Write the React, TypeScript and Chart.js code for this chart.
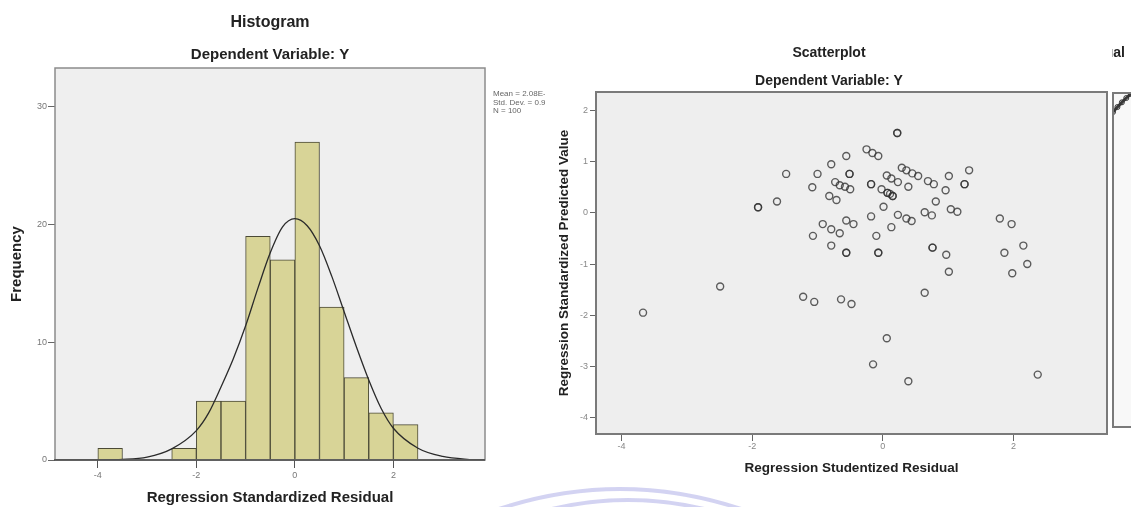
import React, { useEffect, useRef } from "react";
import { Chart, registerables } from "chart.js";

Chart.register(...registerables);
Chart.defaults.font.family = "'Liberation Sans', Arial, sans-serif";

// ---------- Histogram data ----------
const histBinCenters = [-3.75, -2.25, -1.75, -1.25, -0.75, -0.25, 0.25, 0.75, 1.25, 1.75, 2.25];
const histFrequencies = [1, 1, 5, 5, 19, 17, 27, 13, 7, 4, 3];
const curveX = [-4.87, -4.5, -4, -3.5, -3, -2.5, -2, -1.75, -1.5, -1.25, -1, -0.75, -0.5, -0.25, 0, 0.25, 0.5, 0.75, 1, 1.25, 1.5, 1.75, 2, 2.5, 3, 3.5, 3.86];
const curveY = [0, 0, 0.01, 0.05, 0.25, 0.95, 2.5, 4.0, 6.2, 8.6, 11.4, 14.6, 17.6, 19.8, 20.5, 19.9, 18.2, 15.6, 12.6, 9.6, 6.8, 4.4, 2.7, 1.0, 0.3, 0.06, 0.02];
const histXTicks = [-4, -2, 0, 2];
const histYTicks = [0, 10, 20, 30];
const histStats = ["Mean = 2.08E-16", "Std. Dev. = 0.995", "N = 100"];

// ---------- Scatterplot data ----------
const studentizedResidual = [
  0.22, 0.22, -0.25, -0.16, -0.07, -0.56, -0.79, -1.48, -1.0, -0.51, -0.51,
  0.29, 0.36, 0.45, 0.54, 1.01, 1.32, 0.06, 0.13, 0.23, 0.69, 0.78,
  -1.08, -0.73, -0.66, -0.58, -0.5, -0.18, -0.18, -0.02, 0.07, 0.07, 0.11, 0.15, 0.15,
  0.39, 1.25, 1.25, 0.96, -0.82, -0.71, -1.62, -1.91, -1.91, 0.81, 0.01,
  1.04, 1.14, 0.64, 0.75, -0.18, 0.23, 0.36, 0.44, 1.79, 1.97,
  -0.56, -0.45, -0.92, -0.79, -0.66, 0.13, -1.07, -0.1, -0.79, 0.76, 0.76,
  2.15, -0.56, -0.56, -0.07, -0.07, 0.97, 1.86, 2.21, 1.01, 1.98,
  -2.49, 0.64, -1.22, -1.05, -0.64, -0.48, -3.67, 0.06, -0.15, 0.39, 2.37,
];
const standardizedPredicted = [
  1.56, 1.56, 1.24, 1.17, 1.11, 1.11, 0.95, 0.76, 0.76, 0.76, 0.76,
  0.88, 0.83, 0.77, 0.72, 0.72, 0.83, 0.73, 0.67, 0.6, 0.62, 0.56,
  0.5, 0.6, 0.54, 0.51, 0.46, 0.56, 0.56, 0.46, 0.39, 0.39, 0.37, 0.33, 0.33,
  0.51, 0.56, 0.56, 0.44, 0.33, 0.25, 0.22, 0.11, 0.11, 0.22, 0.12,
  0.07, 0.02, 0.01, -0.05, -0.07, -0.04, -0.11, -0.16, -0.11, -0.22,
  -0.15, -0.22, -0.22, -0.32, -0.4, -0.28, -0.45, -0.45, -0.64, -0.68, -0.68,
  -0.64, -0.78, -0.78, -0.78, -0.78, -0.82, -0.78, -1.0, -1.15, -1.18,
  -1.44, -1.56, -1.64, -1.74, -1.69, -1.78, -1.95, -2.45, -2.96, -3.29, -3.16,
];
const scatterXTicks = [-4, -2, 0, 2];
const scatterYTicks = [-4, -3, -2, -1, 0, 1, 2];

// ---------- Cut-off P-P plot (right edge) ----------
const ppExpected = [0, 0.009, 0.018, 0.027, 0.036];
const ppObserved = [0.943, 0.958, 0.972, 0.985, 0.997];
const ppXTicks = [0.2, 0.4, 0.6, 0.8, 1];

const FONT = "'Liberation Sans', Arial, sans-serif";

function framePlugin(bg: string, border: string, width: number, bottomColor?: string) {
  return {
    id: "frame",
    beforeDraw(chart: any) {
      const { ctx, chartArea: a } = chart;
      ctx.save();
      ctx.fillStyle = bg;
      ctx.fillRect(a.left, a.top, a.right - a.left, a.bottom - a.top);
      ctx.restore();
    },
    afterDatasetsDraw(chart: any) {
      const { ctx, chartArea: a } = chart;
      ctx.save();
      ctx.strokeStyle = border;
      ctx.lineWidth = width;
      ctx.strokeRect(a.left, a.top, a.right - a.left, a.bottom - a.top);
      if (bottomColor) {
        ctx.strokeStyle = bottomColor;
        ctx.beginPath();
        ctx.moveTo(a.left - 1, a.bottom);
        ctx.lineTo(a.right, a.bottom);
        ctx.stroke();
      }
      ctx.restore();
    },
  };
}

function spacer(w: number) {
  return {
    position: "right",
    display: true,
    grid: { display: false },
    border: { display: false },
    ticks: { display: false },
    afterFit: (s: any) => {
      s.width = w;
    },
  };
}

export default function App() {
  const histRef = useRef<HTMLCanvasElement>(null);
  const scatRef = useRef<HTMLCanvasElement>(null);
  const ppRef = useRef<HTMLCanvasElement>(null);

  useEffect(() => {
    const charts: Chart[] = [];

    // ---------------- Histogram ----------------
    const statsPlugin = {
      id: "stats",
      afterDraw(chart: any) {
        const { ctx } = chart;
        ctx.save();
        ctx.font = `8px ${FONT}`;
        ctx.fillStyle = "#666";
        ctx.textAlign = "left";
        ctx.textBaseline = "middle";
        histStats.forEach((t, i) => ctx.fillText(t, 493, 94 + i * 8.5));
        ctx.restore();
      },
    };
    charts.push(
      new Chart(histRef.current!, {
        type: "bar",
        data: {
          datasets: [
            {
              type: "line",
              data: curveX.map((x, i) => ({ x, y: curveY[i] })),
              borderColor: "#2a2a2a",
              borderWidth: 1.3,
              pointRadius: 0,
              cubicInterpolationMode: "monotone",
              fill: false,
              order: 0,
            } as any,
            {
              type: "bar",
              data: histBinCenters.map((x, i) => ({ x, y: histFrequencies[i] })),
              backgroundColor: "#d8d497",
              borderColor: "#4b4a36",
              borderWidth: 1,
              barPercentage: 1,
              categoryPercentage: 1,
              order: 1,
            } as any,
          ],
        },
        options: {
          animation: false,
          responsive: false,
          events: [],
          layout: { autoPadding: false, padding: { left: 0, right: 5, top: 0, bottom: 0 } },
          plugins: {
            legend: { display: false },
            tooltip: { enabled: false },
            title: {
              display: true,
              text: "Histogram",
              color: "#222",
              font: { size: 16, weight: "bold", family: FONT, lineHeight: 1.2 },
              padding: { top: 13.4, bottom: 0 },
            },
            subtitle: {
              display: true,
              text: "Dependent Variable: Y",
              color: "#222",
              font: { size: 15, weight: "bold", family: FONT, lineHeight: 1.2 },
              padding: { top: 13.4, bottom: 4 },
            },
          },
          scales: {
            x: {
              type: "linear",
              min: -4.87,
              max: 3.86,
              offset: false,
              grid: { display: true, offset: false, drawOnChartArea: false, drawTicks: true, tickLength: 8, tickColor: "#555" },
              border: { display: false },
              afterBuildTicks: (s: any) => {
                s.ticks = histXTicks.map((v) => ({ value: v }));
              },
              ticks: { color: "#777", font: { size: 9 }, padding: 2, autoSkip: false, maxRotation: 0, callback: (v: any) => String(v) },
              title: {
                display: true,
                text: "Regression Standardized Residual",
                color: "#222",
                font: { size: 15, weight: "bold", family: FONT, lineHeight: 1.2 },
                padding: { top: 0, bottom: 0 },
              },
              afterFit: (s: any) => {
                s.height = 47;
              },
            },
            y: {
              type: "linear",
              min: 0,
              max: 33.3,
              grid: { display: true, drawOnChartArea: false, drawTicks: true, tickLength: 7, tickColor: "#666" },
              border: { display: false },
              afterBuildTicks: (s: any) => {
                s.ticks = histYTicks.map((v) => ({ value: v }));
              },
              ticks: { color: "#777", font: { size: 9 }, padding: 1, autoSkip: false, callback: (v: any) => String(v) },
              title: {
                display: true,
                text: "Frequency",
                color: "#222",
                font: { size: 15, weight: "bold", family: FONT, lineHeight: 1.2 },
                padding: { top: 8, bottom: 0 },
              },
              afterFit: (s: any) => {
                s.width = 55;
              },
            },
            yR: spacer(55) as any,
          },
        },
        plugins: [framePlugin("#efefef", "#8c8c8c", 1.5, "#4a4a4a"), statsPlugin],
      })
    );

    // ---------------- Scatterplot ----------------
    charts.push(
      new Chart(scatRef.current!, {
        type: "scatter",
        data: {
          datasets: [
            {
              data: studentizedResidual.map((x, i) => ({ x, y: standardizedPredicted[i] })),
              pointStyle: "circle",
              pointRadius: 3.5,
              pointBorderWidth: 1.4,
              borderColor: "rgba(50,50,50,0.78)",
              backgroundColor: "rgba(0,0,0,0)",
            } as any,
          ],
        },
        options: {
          animation: false,
          responsive: false,
          events: [],
          layout: { autoPadding: false, padding: 0 },
          plugins: {
            legend: { display: false },
            tooltip: { enabled: false },
            title: {
              display: true,
              text: "Scatterplot",
              color: "#222",
              font: { size: 14, weight: "bold", family: FONT, lineHeight: 1.2 },
              padding: { top: 44.6, bottom: 0 },
            },
            subtitle: {
              display: true,
              text: "Dependent Variable: Y",
              color: "#222",
              font: { size: 14, weight: "bold", family: FONT, lineHeight: 1.2 },
              padding: { top: 11.2, bottom: 2.6 },
            },
          },
          scales: {
            x: {
              type: "linear",
              min: -4.39,
              max: 3.43,
              grid: { display: true, offset: false, drawOnChartArea: false, drawTicks: true, tickLength: 7, tickColor: "#666" },
              border: { display: false },
              afterBuildTicks: (s: any) => {
                s.ticks = scatterXTicks.map((v) => ({ value: v }));
              },
              ticks: { color: "#888", font: { size: 9 }, padding: 0, autoSkip: false, maxRotation: 0, callback: (v: any) => String(v) },
              title: {
                display: true,
                text: "Regression Studentized Residual",
                color: "#222",
                font: { size: 13.5, weight: "bold", family: FONT, lineHeight: 1.2 },
                padding: { top: 0, bottom: 30.9 },
              },
              afterFit: (s: any) => {
                s.height = 73;
              },
            },
            y: {
              type: "linear",
              min: -4.32,
              max: 2.36,
              grid: { display: true, drawOnChartArea: false, drawTicks: true, tickLength: 6, tickColor: "#666" },
              border: { display: false },
              afterBuildTicks: (s: any) => {
                s.ticks = scatterYTicks.map((v) => ({ value: v }));
              },
              ticks: { color: "#888", font: { size: 9 }, padding: 2, autoSkip: false, callback: (v: any) => String(v) },
              title: {
                display: true,
                text: "Regression Standardized Predicted Value",
                color: "#222",
                font: { size: 13.5, weight: "bold", family: FONT, lineHeight: 1.2 },
                padding: { top: 8.9, bottom: 0 },
              },
              afterFit: (s: any) => {
                s.width = 49;
              },
            },
            yR: spacer(4) as any,
          },
        },
        plugins: [framePlugin("#eeeeee", "#7a7a7a", 2)],
      })
    );

    // ---------------- Cut-off Normal P-P plot ----------------
    const ppTitle = {
      id: "ppTitle",
      afterDraw(chart: any) {
        const { ctx } = chart;
        ctx.save();
        ctx.font = `bold 14px ${FONT}`;
        ctx.fillStyle = "#222";
        ctx.textAlign = "right";
        ctx.textBaseline = "middle";
        ctx.fillText("Normal P-P Plot of Regression Standardized Residual", 13, 53);
        ctx.restore();
      },
    };
    charts.push(
      new Chart(ppRef.current!, {
        type: "line",
        data: {
          datasets: [
            {
              data: ppExpected.map((x, i) => ({ x, y: ppObserved[i] })),
              borderColor: "#3a3a3a",
              borderWidth: 3,
              pointRadius: 2.5,
              pointBorderWidth: 1,
              pointBorderColor: "#333",
              pointBackgroundColor: "rgba(0,0,0,0)",
              fill: false,
            } as any,
          ],
        },
        options: {
          animation: false,
          responsive: false,
          events: [],
          layout: { autoPadding: false, padding: { top: 93, left: 0, right: 0, bottom: 0 } },
          plugins: { legend: { display: false }, tooltip: { enabled: false } },
          scales: {
            x: {
              type: "linear",
              min: 0,
              max: 1,
              grid: { display: true, drawOnChartArea: false, drawTicks: true, tickLength: 6, tickColor: "#666" },
              border: { display: false },
              afterBuildTicks: (s: any) => {
                s.ticks = ppXTicks.map((v) => ({ value: v }));
              },
              ticks: { color: "#888", font: { size: 9 }, padding: 0, autoSkip: false, maxRotation: 0, callback: (v: any) => Number(v).toFixed(1) },
              afterFit: (s: any) => {
                s.height = 80;
              },
            },
            y: {
              type: "linear",
              min: 0,
              max: 1,
              grid: { display: false },
              border: { display: false },
              ticks: { display: false },
              afterFit: (s: any) => {
                s.width = 1;
              },
            },
          },
        },
        plugins: [framePlugin("#f8f8f8", "#7a7a7a", 2), ppTitle],
      })
    );

    return () => charts.forEach((c) => c.destroy());
  }, []);

  return (
    <div
      style={{
        position: "absolute",
        left: 0,
        top: 0,
        width: 1131,
        height: 507,
        overflow: "hidden",
        background: "#ffffff",
      }}
    >
      <canvas ref={histRef} width={545} height={507} style={{ position: "absolute", left: 0, top: 0, width: 545, height: 507 }} />
      <canvas ref={scatRef} width={564} height={507} style={{ position: "absolute", left: 547, top: 0, width: 564, height: 507 }} />
      <canvas ref={ppRef} width={500} height={507} style={{ position: "absolute", left: 1112, top: 0, width: 500, height: 507 }} />
      <svg width={1131} height={507} style={{ position: "absolute", left: 0, top: 0, pointerEvents: "none" }}>
        <path d="M 490 512 Q 620 466 750 512" stroke="#c8c8ef" strokeWidth={4} fill="none" opacity={0.8} />
        <path d="M 540 512 Q 628 488 716 512" stroke="#c8c8ef" strokeWidth={4} fill="none" opacity={0.8} />
      </svg>
    </div>
  );
}
